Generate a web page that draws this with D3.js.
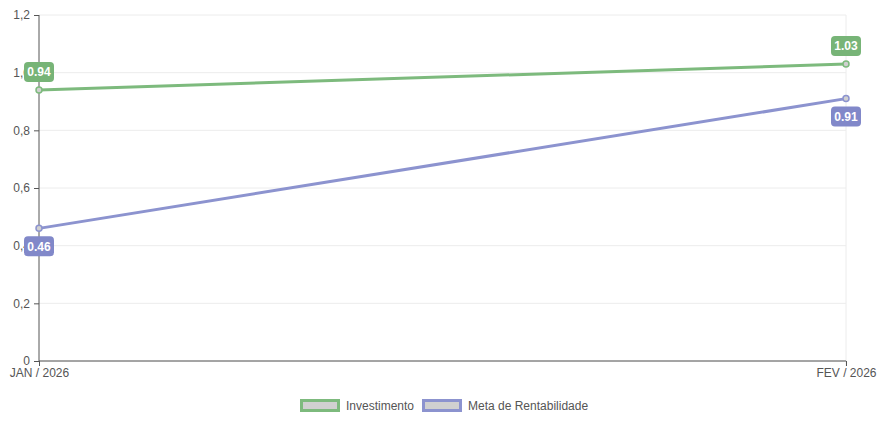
<!DOCTYPE html>
<html>
<head>
<meta charset="utf-8">
<script src="https://cdn.jsdelivr.net/npm/d3@7"></script>
<style>
  body { margin: 0; background: #fff; }
  svg { font-family: "Liberation Sans", Arial, sans-serif; }
</style>
</head>
<body>
<svg id="chart" width="878" height="421"></svg>
<script>
// Chart data
var months = ["JAN / 2026", "FEV / 2026"];
var investimento = [0.94, 1.03];
var metaRentabilidade = [0.46, 0.91];
var yTicks = [0, 0.2, 0.4, 0.6, 0.8, 1.0, 1.2];
var seriesNames = ["Investimento", "Meta de Rentabilidade"];

var svg = d3.select("#chart");
var margin = {top: 15, right: 32, bottom: 60, left: 39};
var width = 878, height = 421;

var xScale = d3.scalePoint()
               .domain(months)
               .range([margin.left, width - margin.right]);

var yScale = d3.scaleLinear()
               .domain([0, 1.2])
               .range([height - margin.bottom, margin.top]);

var fmt = function(d) { return d === 0 ? "0" : d3.format(".1f")(d).replace(".", ","); };

// Horizontal grid lines
svg.append("g")
   .selectAll("line")
   .data(yTicks)
   .enter().append("line")
   .attr("x1", margin.left)
   .attr("x2", width - margin.right)
   .attr("y1", function(d) { return yScale(d); })
   .attr("y2", function(d) { return yScale(d); })
   .attr("stroke", "#ececec")
   .attr("stroke-width", 1);

// Right vertical grid line
svg.append("line")
   .attr("x1", xScale(months[1])).attr("x2", xScale(months[1]))
   .attr("y1", margin.top).attr("y2", height - margin.bottom + 5)
   .attr("stroke", "#ececec");

// Y axis
var yAxis = svg.append("g")
   .attr("transform", "translate(" + margin.left + ",0)")
   .call(d3.axisLeft(yScale).tickValues(yTicks).tickFormat(fmt).tickSize(5).tickPadding(4));
yAxis.select(".domain").attr("stroke", "#555").attr("d", "M0," + margin.top + "V" + (height - margin.bottom));
yAxis.selectAll(".tick line").attr("stroke", "#555");
yAxis.selectAll("text").attr("fill", "#555").style("font-size", "12px");

// X axis
var xAxis = svg.append("g")
   .attr("transform", "translate(0," + (height - margin.bottom) + ")")
   .call(d3.axisBottom(xScale).tickSize(5).tickPadding(2));
xAxis.select(".domain").attr("stroke", "#555").attr("d", "M" + margin.left + ",0H" + (width - margin.right));
xAxis.selectAll(".tick line").attr("stroke", "#555");
xAxis.selectAll("text").attr("fill", "#555").style("font-size", "12px");

var series = [
  {name: seriesNames[0], values: investimento, color: "#7dba7d", label: "#77b477", above: true},
  {name: seriesNames[1], values: metaRentabilidade, color: "#8c93cf", label: "#8188c9", above: false}
];

var line = d3.line()
             .x(function(d, i) { return xScale(months[i]); })
             .y(function(d) { return yScale(d); });

series.forEach(function(s) {
  svg.append("path")
     .datum(s.values)
     .attr("fill", "none")
     .attr("stroke", s.color)
     .attr("stroke-width", 3)
     .attr("d", line);

  svg.append("g")
     .selectAll("circle")
     .data(s.values)
     .enter().append("circle")
     .attr("cx", function(d, i) { return xScale(months[i]); })
     .attr("cy", function(d) { return yScale(d); })
     .attr("r", 3)
     .attr("fill", "#d0d0d0")
     .attr("stroke", s.color)
     .attr("stroke-width", 1.5);
});

// Data labels
series.forEach(function(s) {
  var g = svg.append("g")
     .selectAll("g")
     .data(s.values)
     .enter().append("g")
     .attr("transform", function(d, i) {
        var dy = s.above ? -18 : 18;
        return "translate(" + xScale(months[i]) + "," + (yScale(d) + dy) + ")";
     });
  g.append("rect")
   .attr("x", -15).attr("y", -10)
   .attr("width", 30).attr("height", 20)
   .attr("rx", 4)
   .attr("fill", s.label);
  g.append("text")
   .attr("text-anchor", "middle")
   .attr("dy", "0.35em")
   .attr("fill", "#fff")
   .style("font-size", "12px")
   .style("font-weight", "bold")
   .text(function(d) { return d3.format(".2f")(d); });
});

// Legend
var legendX = [300, 422];
var legend = svg.append("g")
   .selectAll("g")
   .data(series)
   .enter().append("g")
   .attr("transform", function(d, i) { return "translate(" + legendX[i] + ",399)"; });
legend.append("rect")
   .attr("x", 1.5).attr("y", 1.5)
   .attr("width", 37).attr("height", 10)
   .attr("fill", "#d0d0d0")
   .attr("stroke", function(d) { return d.color; })
   .attr("stroke-width", 3);
legend.append("text")
   .attr("x", 46).attr("y", 7)
   .attr("dy", "0.35em")
   .attr("fill", "#555")
   .style("font-size", "12px")
   .text(function(d) { return d.name; });
</script>
</body>
</html>
